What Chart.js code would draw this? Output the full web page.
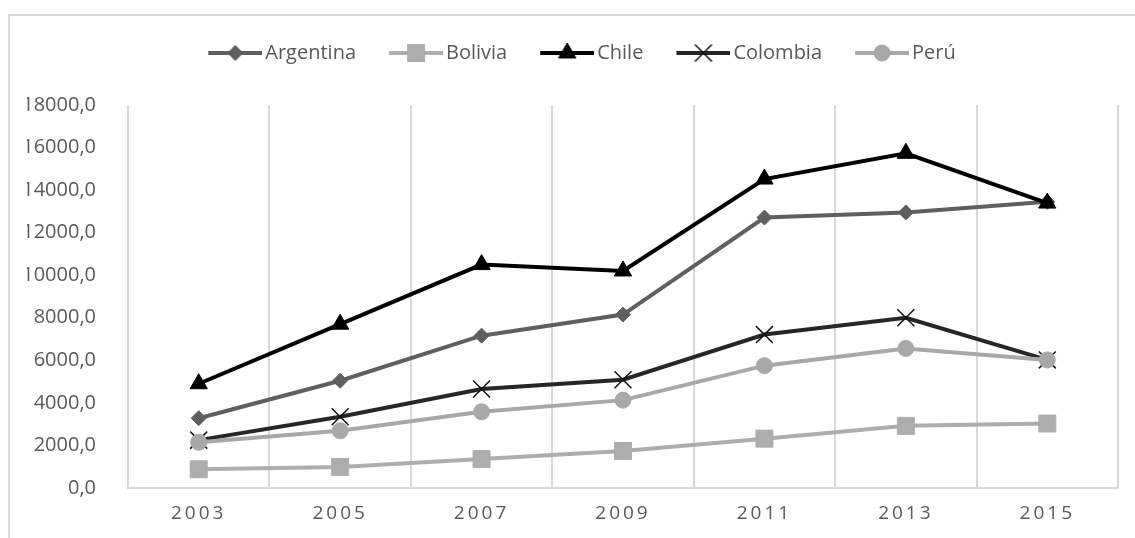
<!DOCTYPE html>
<html>
<head>
<meta charset="utf-8">
<script src="https://cdn.jsdelivr.net/npm/chart.js@4/dist/chart.umd.min.js"></script>
<style>
  html, body { margin: 0; padding: 0; background: #fff; overflow: hidden; }
  #wrap { position: relative; width: 1135px; height: 538px; }
  #frame { position: absolute; left: 8px; top: 14px; width: 1300px; height: 700px;
           border-top: 2px solid #d9d9d9; border-left: 2px solid #d9d9d9; }
  #c { position: absolute; left: 0; top: 0; }
</style>
</head>
<body>
<div id="wrap">
  <div id="frame"></div>
  <canvas id="c" width="1135" height="538"></canvas>
</div>
<script>
// Years on the horizontal axis
const years = ['2003', '2005', '2007', '2009', '2011', '2013', '2015'];

// Series values per country
const argentina = [3280, 5040, 7160, 8150, 12710, 12950, 13450];
const bolivia   = [880, 990, 1360, 1740, 2320, 2920, 3030];
const chile     = [4900, 7700, 10500, 10200, 14520, 15730, 13390];
const colombia  = [2250, 3350, 4650, 5090, 7210, 8000, 6020];
const peru      = [2150, 2690, 3580, 4130, 5750, 6560, 6020];

// Value-axis ticks
const yTickValues = [0, 2000, 4000, 6000, 8000, 10000, 12000, 14000, 16000, 18000];

const FONT = "'Open Sans', sans-serif";
const TEXT = '#595959';

// Line and marker look for each country
const looks = [
  { label: 'Argentina', data: argentina, color: '#5f5f5f', point: 'rectRot',  radius: 7.5, bw: 1,   order: 4 },
  { label: 'Bolivia',   data: bolivia,   color: '#adadad', point: 'rect',     radius: 12,  bw: 1,   order: 3 },
  { label: 'Chile',     data: chile,     color: '#000000', point: 'triangle', radius: 10,  bw: 1,   order: 2 },
  { label: 'Colombia',  data: colombia,  color: '#262626', point: 'crossRot', radius: 12,  bw: 1.5, order: 1, pointColor: '#111111' },
  { label: 'Perú',      data: peru,      color: '#a8a8a8', point: 'circle',   radius: 8,   bw: 1,   order: 0 }
];

// Small line-plus-marker swatch used as the legend symbol
function makeSwatch(l) {
  const W = 80, H = 26, seg = 54;
  const cv = document.createElement('canvas');
  cv.width = W; cv.height = H;
  const g = cv.getContext('2d');
  const x0 = W - seg;
  g.strokeStyle = l.color;
  g.lineWidth = 4;
  g.beginPath();
  g.moveTo(x0, H / 2);
  g.lineTo(W, H / 2);
  g.stroke();
  const pc = l.pointColor || l.color;
  g.fillStyle = pc;
  g.strokeStyle = pc;
  g.lineWidth = l.bw;
  Chart.helpers.drawPoint(g, { pointStyle: l.point, radius: l.radius, borderWidth: l.bw, rotation: 0 }, x0 + seg / 2, H / 2);
  return cv;
}
const swatches = looks.map(makeSwatch);

const datasets = looks.map(l => ({
  label: l.label,
  data: l.data,
  borderColor: l.color,
  backgroundColor: l.color,
  borderWidth: 4,
  tension: 0,
  pointStyle: l.point,
  pointRadius: l.radius,
  pointHoverRadius: l.radius,
  pointBackgroundColor: l.pointColor || l.color,
  pointBorderColor: l.pointColor || l.color,
  pointBorderWidth: l.bw,
  order: l.order
}));

// Wider spacing between the digits of the year labels
const spacedYears = {
  id: 'spacedYears',
  afterLayout(chart) {
    const sx = chart.scales.x;
    if (sx._spaced) return;
    const orig = sx.drawLabels;
    sx.drawLabels = function (area) {
      const ctx = this.ctx;
      ctx.save();
      ctx.letterSpacing = '3px';
      orig.call(this, area);
      ctx.restore();
    };
    sx._spaced = true;
  }
};

new Chart(document.getElementById('c'), {
  type: 'line',
  data: { labels: years, datasets },
  plugins: [spacedYears],
  options: {
    responsive: false,
    animation: false,
    events: [],
    layout: { padding: { left: 27, right: 17, top: 29, bottom: 0 } },
    plugins: {
      tooltip: { enabled: false },
      // empty title acts as a gap between the legend and the plot
      title: { display: true, text: '', weight: 500, font: { size: 10 }, padding: { top: 0, bottom: 20 } },
      legend: {
        position: 'top',
        align: 'center',
        labels: {
          usePointStyle: true,
          pointStyleWidth: 66,
          padding: 14,
          color: TEXT,
          font: { family: FONT, size: 20 },
          generateLabels(chart) {
            return chart.data.datasets.map((ds, i) => ({
              text: ds.label,
              pointStyle: swatches[i],
              fillStyle: ds.borderColor,
              strokeStyle: ds.borderColor,
              lineWidth: 0,
              hidden: false,
              datasetIndex: i,
              fontColor: TEXT
            }));
          }
        }
      }
    },
    scales: {
      x: {
        type: 'category',
        offset: true,
        grid: { offset: true, color: '#d9d9d9', lineWidth: 2, drawTicks: false },
        border: { display: true, color: '#d9d9d9', width: 2 },
        ticks: {
          color: TEXT,
          font: { family: FONT, size: 19 },
          padding: 14,
          maxRotation: 0,
          autoSkip: false
        },
        afterFit(scale) { scale.height = 50; }
      },
      y: {
        min: 0,
        max: 18000,
        grid: { display: false },
        border: { display: false },
        afterBuildTicks(scale) { scale.ticks = yTickValues.map(v => ({ value: v })); },
        ticks: {
          color: TEXT,
          font: { family: FONT, size: 20 },
          padding: 24,
          callback: v => v.toFixed(1).replace('.', ',')
        },
        afterFit(scale) { scale.width = 101; }
      }
    }
  }
});
</script>
</body>
</html>
